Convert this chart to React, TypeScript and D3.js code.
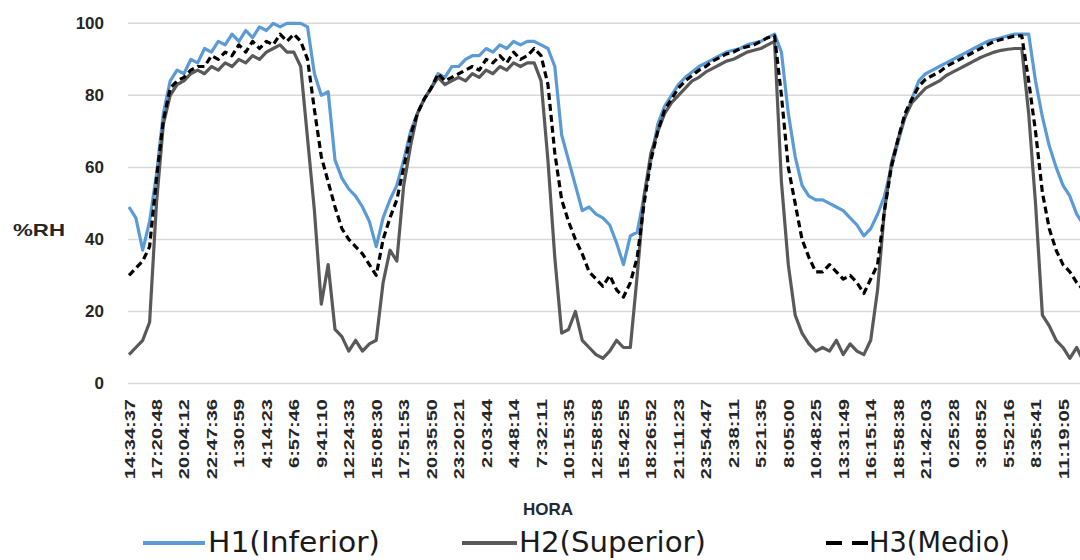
import React from 'react';
import * as d3 from 'd3';

const TIME_LABELS = [
  '14:34:37', '17:20:48', '20:04:12', '22:47:36', '1:30:59', '4:14:23', '6:57:46',
  '9:41:10', '12:24:33', '15:08:30', '17:51:53', '20:35:50', '23:20:21', '2:03:44',
  '4:48:14', '7:32:11', '10:15:35', '12:58:58', '15:42:55', '18:26:52', '21:11:23',
  '23:54:47', '2:38:11', '5:21:35', '8:05:00', '10:48:25', '13:31:49', '16:15:14',
  '18:58:38', '21:42:03', '0:25:28', '3:08:52', '5:52:16', '8:35:41', '11:19:05',
];

const SAMPLES_PER_LABEL = 4;

const H1_INFERIOR = [
  49, 46, 37, 45, 58, 75, 84, 87, 86, 90, 89, 93, 92, 95, 94, 97, 95, 98, 96, 99,
  98, 100, 99, 100, 100, 100, 99, 86, 80, 81, 62, 57, 54, 52, 49, 45, 38, 46, 51, 55,
  62, 70, 75, 79, 82, 86, 85, 88, 88, 90, 91, 91, 93, 92, 94, 93, 95, 94, 95, 95,
  94, 93, 88, 69, 62, 55, 48, 49, 47, 46, 44, 39, 33, 41, 42, 52, 62, 72, 77, 80,
  83, 85, 86.5, 88, 89, 90, 91, 92, 92.5, 93, 94, 94.5, 95, 96, 97, 92, 75, 63, 55, 52,
  51, 51, 50, 49, 48, 46, 44, 41, 43, 47, 52, 60, 67, 74, 79, 84, 86, 87, 88, 89,
  90, 91, 92, 93, 94, 95, 95.5, 96, 96.5, 97, 97, 97, 84, 74, 66, 60, 55, 52, 47, 44,
];

const H2_SUPERIOR = [
  8, 10, 12, 17, 50, 72, 80, 83, 84, 86, 87, 86, 88, 87, 89, 88, 90, 89, 91, 90,
  92, 93, 94, 92, 92, 88, 68, 48, 22, 33, 15, 13, 9, 12, 9, 11, 12, 28, 37, 34,
  55, 66, 75, 79, 82, 85, 83, 84, 85, 84, 86, 85, 87, 86, 88, 87, 89, 88, 89, 89,
  84, 62, 35, 14, 15, 20, 12, 10, 8, 7, 9, 12, 10, 10, 30, 52, 64, 70, 75, 78,
  80, 82, 84, 85, 86.5, 87.5, 88.5, 89.5, 90, 91, 92, 92.5, 93, 94, 95, 56, 33, 19, 14, 11,
  9, 10, 9, 12, 8, 11, 9, 8, 12, 26, 48, 61, 68, 74, 78, 80, 82, 83, 84, 85.5,
  86.5, 87.5, 88.5, 89.5, 90.5, 91.3, 92, 92.5, 92.8, 93, 93, 75, 50, 19, 16, 12, 10, 7, 10, 6,
];

const H3_MEDIO = [
  30, 32, 34, 38, 57, 73, 82, 84, 85, 87, 88, 88, 91, 90, 92, 91, 94, 92, 95, 93,
  95, 94, 97, 95, 97, 95, 90, 76, 63, 56, 49, 43, 40, 38, 36, 33, 30, 40, 46, 51,
  60, 69, 75, 79, 82, 86, 84, 85, 86, 87, 88, 87, 90, 89, 91, 89, 92, 90, 91, 93,
  91, 83, 64, 51, 45, 40, 36, 31, 29, 27, 30, 26, 24, 28, 35, 50, 62, 70, 76, 79,
  82, 84, 85.5, 87, 88, 89.5, 90.5, 91.5, 92, 93, 93.5, 94, 95, 96, 96.5, 80, 60, 50, 40, 35,
  31, 31, 33, 31, 29, 30, 28, 25, 29, 33, 48, 60, 68, 75, 79, 82.5, 84.5, 85.5, 86.5, 88,
  89, 90, 91, 92, 93, 94, 95, 95.5, 96, 96.5, 96.5, 84, 70, 53, 43, 37, 33, 31, 28, 26,
];

const Y_TICKS = [0, 20, 40, 60, 80, 100];

const SERIES = [
  { name: 'H1(Inferior)', values: H1_INFERIOR, color: '#5B9BD5', dash: null as string | null },
  { name: 'H2(Superior)', values: H2_SUPERIOR, color: '#595959', dash: null as string | null },
  { name: 'H3(Medio)', values: H3_MEDIO, color: '#000000', dash: '7,4' },
];

const TICK_FONT = '"Liberation Sans", Arial, sans-serif';
const LEGEND_FONT = '"Liberation Sans Narrow", "DejaVu Sans Condensed", "Open Sans", sans-serif';

export default function App() {
  const W = 1080;
  const H = 560;
  const lastIndex = (TIME_LABELS.length - 1) * SAMPLES_PER_LABEL;
  const x = d3.scaleLinear().domain([0, lastIndex]).range([129, 1063]);
  const y = d3.scaleLinear().domain([0, 100]).range([383.5, 23.3]);

  const line = d3
    .line<number>()
    .x((_, i) => x(i))
    .y((d) => y(d));

  const labelLen = (s: string) => {
    const colons = (s.match(/:/g) || []).length;
    return (s.length - colons) * 11.2 + colons * 6.5;
  };

  const legend = [
    { lx1: 143, lx2: 205, tx: 208, tl: 172 },
    { lx1: 462, lx2: 517, tx: 519, tl: 187 },
    { lx1: 826, lx2: 868, tx: 869, tl: 141 },
  ];

  return (
    <svg
      width={W}
      height={H}
      style={{ position: 'absolute', left: 0, top: 0, background: '#fff' }}
    >
      <rect x={0} y={0} width={W} height={H} fill="#fff" />
      {Y_TICKS.map((t) => (
        <g key={t}>
          <line x1={128} x2={W} y1={y(t)} y2={y(t)} stroke="#d9d9d9" strokeWidth={1.5} />
          <text
            x={104}
            y={y(t)}
            textAnchor="end"
            dominantBaseline="central"
            fontFamily={TICK_FONT}
            fontWeight="bold"
            fontSize={17}
            fill="#262626"
          >
            {t}
          </text>
        </g>
      ))}
      <text
        x={13}
        y={236}
        fontFamily={TICK_FONT}
        fontWeight="bold"
        fontSize={17}
        fill="#262626"
        textLength={52}
        lengthAdjust="spacingAndGlyphs"
      >
        %RH
      </text>

      {TIME_LABELS.map((lab, i) => {
        const px = x(i * SAMPLES_PER_LABEL);
        return (
          <text
            key={i}
            transform={`translate(${px},399) rotate(-90)`}
            textAnchor="end"
            dominantBaseline="central"
            fontFamily={TICK_FONT}
            fontWeight="bold"
            fontSize={15}
            fill="#262626"
            textLength={labelLen(lab)}
            lengthAdjust="spacingAndGlyphs"
          >
            {lab}
          </text>
        );
      })}

      <text
        x={548}
        y={515}
        textAnchor="middle"
        fontFamily={TICK_FONT}
        fontWeight="bold"
        fontSize={17}
        fill="#1f2a38"
      >
        HORA
      </text>

      {SERIES.map((s) => (
        <path
          key={s.name}
          d={line(s.values) || ''}
          fill="none"
          stroke={s.color}
          strokeWidth={3.2}
          strokeLinejoin="round"
          strokeDasharray={s.dash || undefined}
        />
      ))}

      {SERIES.map((s, i) => {
        const L = legend[i];
        return (
          <g key={s.name}>
            <line
              x1={L.lx1}
              x2={L.lx2}
              y1={543}
              y2={543}
              stroke={s.color}
              strokeWidth={4}
              strokeDasharray={s.dash ? '16,10' : undefined}
            />
            <text
              x={L.tx}
              y={552}
              fontFamily={LEGEND_FONT}
              fontSize={29}
              fontWeight={500}
              fill="#1a1a1a"
              textLength={L.tl}
              lengthAdjust="spacingAndGlyphs"
            >
              {s.name}
            </text>
          </g>
        );
      })}
    </svg>
  );
}
